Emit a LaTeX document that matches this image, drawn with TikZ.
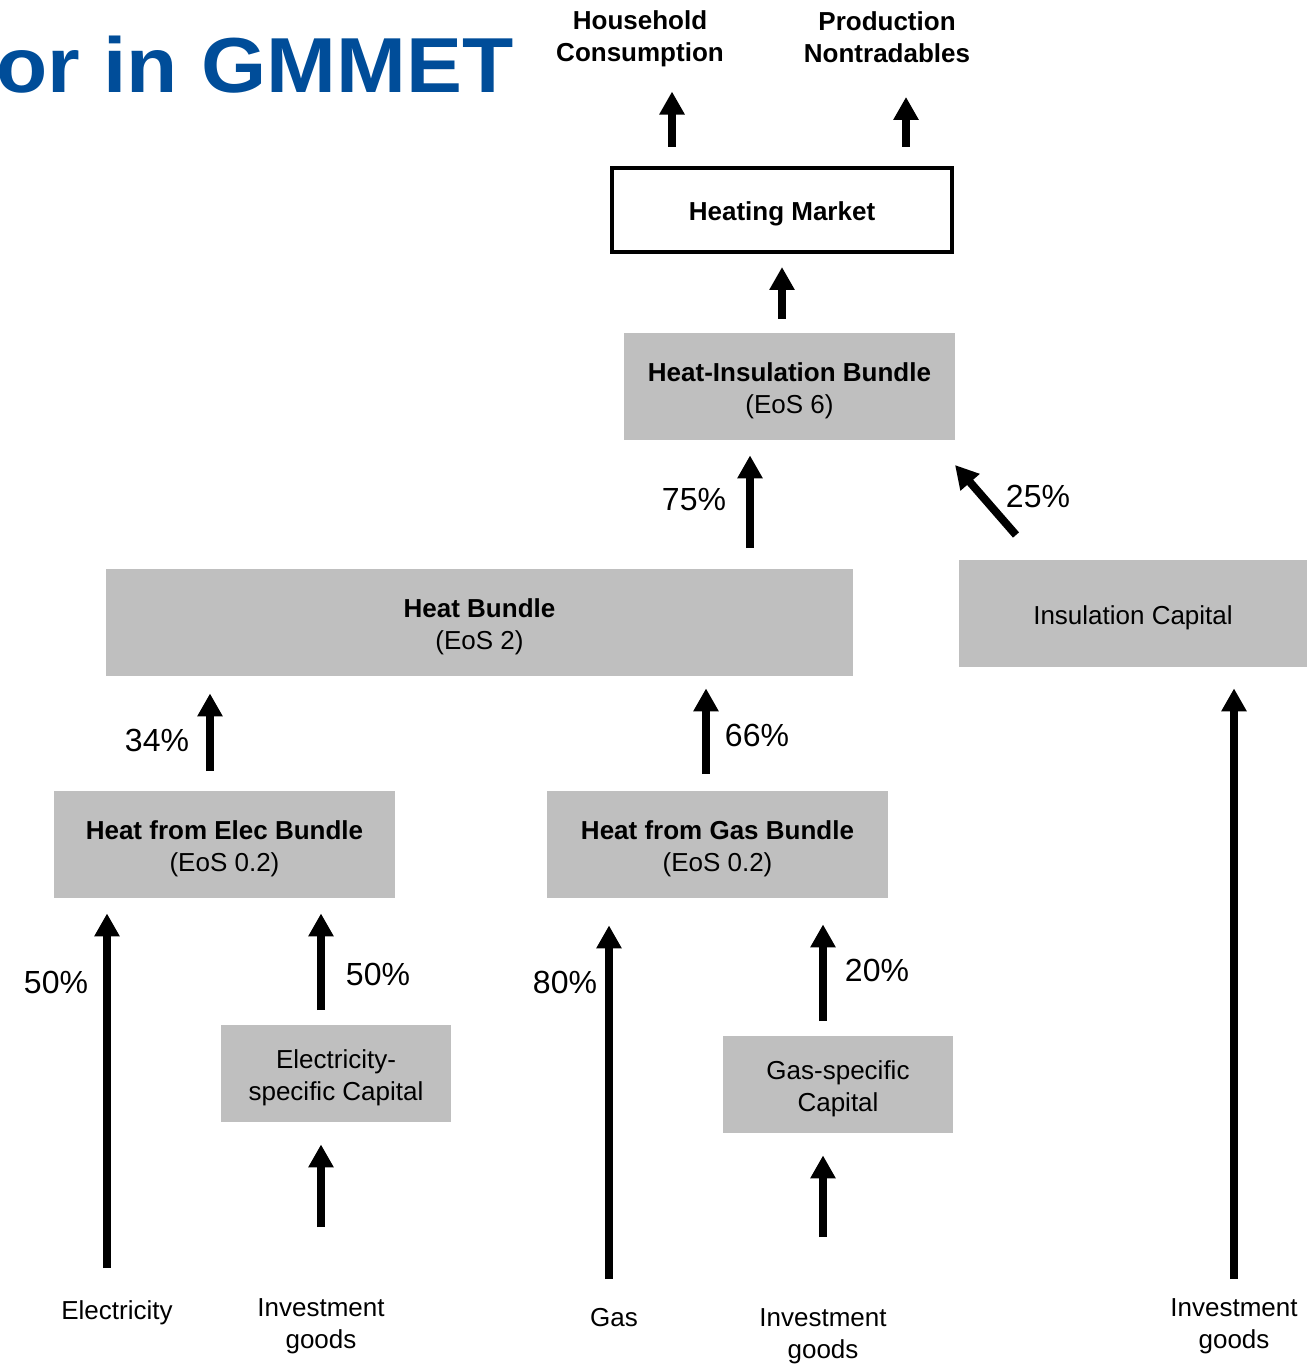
\documentclass[tikz,border=0pt]{standalone}
\usepackage{fontspec}
\setmainfont{Liberation Sans}
\usetikzlibrary{arrows.meta}

\definecolor{boxgray}{RGB}{191,191,191}
\definecolor{gmmetblue}{RGB}{0,77,153}

\tikzset{
    bundle/.style={fill=boxgray, align=center, inner sep=0pt, font=\fontsize{13}{16}\selectfont},
    twoline/.style={execute at begin node={\rule{0pt}{29.5pt}}},
    oneline/.style={execute at begin node={\rule{0pt}{13.5pt}}},
    flow/.style={line width=4pt, -{Triangle[length=11.5pt,width=12pt]}},
    share/.style={inner sep=0pt, font=\fontsize{16}{19}\selectfont},
    source/.style={inner sep=0pt, align=center, font=\fontsize{13}{16}\selectfont}
}

\begin{document}
\begin{tikzpicture}[x=0.5pt,y=-0.5pt]
    \useasboundingbox (0,0) rectangle (1307,1369);
    \clip (0,0) rectangle (1307,1369);

    % title
    \node[anchor=base west, inner sep=0pt, text=gmmetblue, font=\fontsize{39}{47}\bfseries] (title) at (-4,93) {\scalebox{1.075}[1]{or in GMMET}};

    % users
    \node[source, font=\fontsize{13}{16}\bfseries] (hh) at (640,39) {Household\\Consumption};
    \node[source, font=\fontsize{13}{16}\bfseries] (pn) at (887,37) {Production\\Nontradables};

    % market and bundles
    \node[bundle, oneline, fill=white, draw, line width=2pt, minimum width=170pt, minimum height=42pt, font=\fontsize{13}{16}\bfseries] (hm) at (782,210) {Heating Market};
    \node[bundle, twoline, minimum width=165.5pt, minimum height=53.5pt] (hib) at (789.5,386.5) {\textbf{Heat-Insulation Bundle}\\(EoS 6)};
    \node[bundle, twoline, minimum width=373.5pt, minimum height=53.5pt] (heat) at (479.5,622.5) {\textbf{Heat Bundle}\\(EoS 2)};
    \node[bundle, oneline, minimum width=174pt, minimum height=53.5pt] (ins) at (1133,613.5) {Insulation Capital};
    \node[bundle, twoline, minimum width=170.5pt, minimum height=53.5pt] (hfe) at (224.5,844.5) {\textbf{Heat from Elec Bundle}\\(EoS 0.2)};
    \node[bundle, twoline, minimum width=170.5pt, minimum height=53.5pt] (hfg) at (717.5,844.5) {\textbf{Heat from Gas Bundle}\\(EoS 0.2)};
    \node[bundle, twoline, minimum width=115pt, minimum height=48.5pt] (ecap) at (336,1073.5) {Electricity-\\specific Capital};
    \node[bundle, twoline, minimum width=115pt, minimum height=48.5pt] (gcap) at (838,1084.5) {Gas-specific\\Capital};

    % inputs
    \node[source] (elec) at (117,1313) {Electricity};
    \node[source] (inv1) at (321,1326) {Investment\\goods};
    \node[source] (gas) at (614,1318) {Gas};
    \node[source] (inv2) at (823,1336) {Investment\\goods};
    \node[source] (inv3) at (1234,1326) {Investment\\goods};

    % shares
    \node[share] (p75) at (694,500) {75\%};
    \node[share] (p25) at (1038,496) {25\%};
    \node[share] (p34) at (157,740) {34\%};
    \node[share] (p66) at (757,735) {66\%};
    \node[share] (p50a) at (56,982) {50\%};
    \node[share] (p50b) at (378,974) {50\%};
    \node[share] (p80) at (565,982) {80\%};
    \node[share] (p20) at (877,970) {20\%};

    % arrow feet
    \coordinate (f-elec) at (107,1268);
    \coordinate (f-ecap) at (321,1010);
    \coordinate (f-inv1) at (321,1227);
    \coordinate (f-gas) at (609,1279);
    \coordinate (f-gcap) at (823,1021);
    \coordinate (f-inv2) at (823,1237);
    \coordinate (f-inv3) at (1234,1279);
    \coordinate (f-hfe) at (210,771);
    \coordinate (f-hfg) at (706,774);
    \coordinate (f-heat) at (750,548);
    \coordinate (f-ins) at (1016,535);
    \coordinate (t-ins) at (955,465);
    \coordinate (f-hib) at (782,319);
    \coordinate (f-hh) at (672,147);
    \coordinate (f-pn) at (906,147);

    % arrows
    \draw[flow, shorten >=7.5pt] (f-elec) -- (f-elec |- hfe.south);
    \draw[flow, shorten >=7.5pt] (f-ecap) -- (f-ecap |- hfe.south);
    \draw[flow, shorten >=11pt] (f-inv1) -- (f-inv1 |- ecap.south);
    \draw[flow, shorten >=13.5pt] (f-gas) -- (f-gas |- hfg.south);
    \draw[flow, shorten >=13pt] (f-gcap) -- (f-gcap |- hfg.south);
    \draw[flow, shorten >=11pt] (f-inv2) -- (f-inv2 |- gcap.south);
    \draw[flow, shorten >=10.5pt] (f-inv3) -- (f-inv3 |- ins.south);
    \draw[flow, shorten >=8.5pt] (f-hfe) -- (f-hfe |- heat.south);
    \draw[flow, shorten >=6pt] (f-hfg) -- (f-hfg |- heat.south);
    \draw[flow, shorten >=7.5pt] (f-heat) -- (f-heat |- hib.south);
    \draw[flow] (f-ins) -- (t-ins);
    \draw[flow, shorten >=6.5pt] (f-hib) -- (f-hib |- hm.south);
    \draw[flow, shorten >=12pt] (f-hh) -- (f-hh |- hh.south);
    \draw[flow, shorten >=17pt] (f-pn) -- (f-pn |- pn.south);
\end{tikzpicture}
\end{document}
